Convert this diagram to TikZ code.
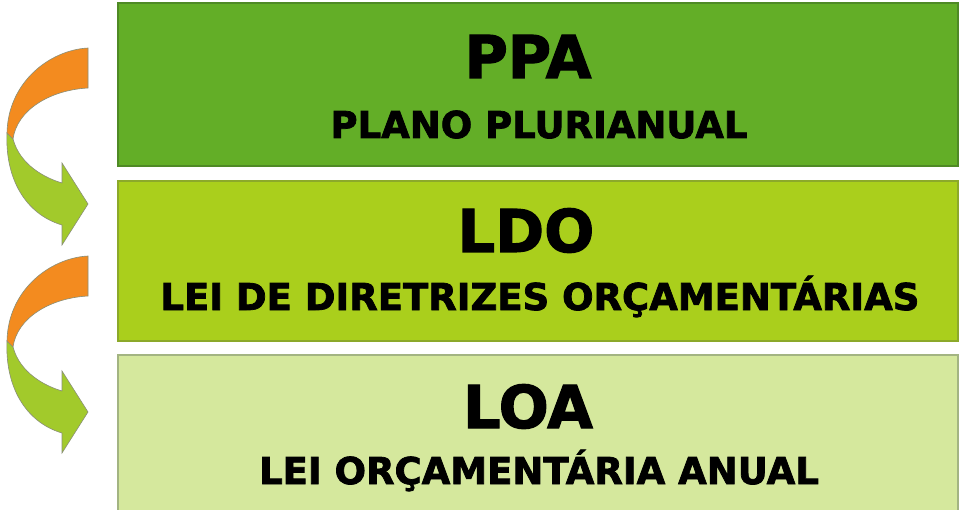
\documentclass[tikz,border=0pt]{standalone}
\usepackage{fontspec}
\setmainfont{DejaVu Sans}[BoldFeatures={FakeBold=2}]
\definecolor{ppacol}{HTML}{63AE27}
\definecolor{ppadraw}{HTML}{4F8A25}
\definecolor{ldocol}{HTML}{AACF1C}
\definecolor{ldodraw}{HTML}{8CA92A}
\definecolor{loacol}{HTML}{D5E89D}
\definecolor{loadraw}{HTML}{A3B482}
\definecolor{arrorange}{HTML}{F38B1F}
\definecolor{arrgreen}{HTML}{A2CA2B}
\definecolor{arredge}{HTML}{8A8F78}
\tikzset{
  layerbox/.style={rectangle, inner sep=0pt, outer sep=0pt, line width=1.2pt, minimum width=840pt},
  titletext/.style={anchor=base, inner sep=0pt, font=\fontsize{59}{59}\selectfont\bfseries},
  subtext/.style={anchor=base, inner sep=0pt, font=\fontsize{37}{37}\selectfont\bfseries},
  arrpart/.style={line width=0.6pt, draw=arredge},
}
\begin{document}
\begin{tikzpicture}[x=1pt,y=-1pt]
\useasboundingbox (0,0) rectangle (976,510);
\fill[white] (0,0) rectangle (976,510);
\begin{scope}
\clip (0,0) rectangle (976,510);
\node[layerbox, fill=ppacol, draw=ppadraw, minimum height=163pt] (ppa) at (538,84.5) {};
\node[layerbox, fill=ldocol, draw=ldodraw, minimum height=160pt] (ldo) at (538,261) {};
\node[layerbox, fill=loacol, draw=loadraw, minimum height=165pt] (loa) at (538,437.5) {};
\end{scope}
\node[titletext] (ppat) at (528,78) {PPA};
\node[subtext] (ppas) at (539,138) {PLANO PLURIANUAL};
\node[titletext] (ldot) at (526,252) {LDO};
\node[subtext] (ldos) at (540,310) {LEI DE DIRETRIZES ORÇAMENTÁRIAS};
\node[titletext] (loat) at (528,428) {LOA};
\node[subtext] (loas) at (539,484) {LEI ORÇAMENTÁRIA ANUAL};
\foreach \dy in {0,208}{
\begin{scope}[yshift=-\dy pt]
\fill[arrpart, fill=arrgreen] (7,133) -- (13,139) .. controls (20,165) and (45,178) .. (62,183)
  -- (62,163) -- (88,204) -- (62,245) -- (62,225) .. controls (25,214) and (5,178) .. (7,133) -- cycle;
\fill[arrpart, fill=arrorange] (88,48) -- (88,88) .. controls (50,90) and (17,110) .. (13,139)
  -- (7,133) .. controls (8,82) and (50,50) .. (88,48) -- cycle;
\end{scope}}
\end{tikzpicture}
\end{document}
